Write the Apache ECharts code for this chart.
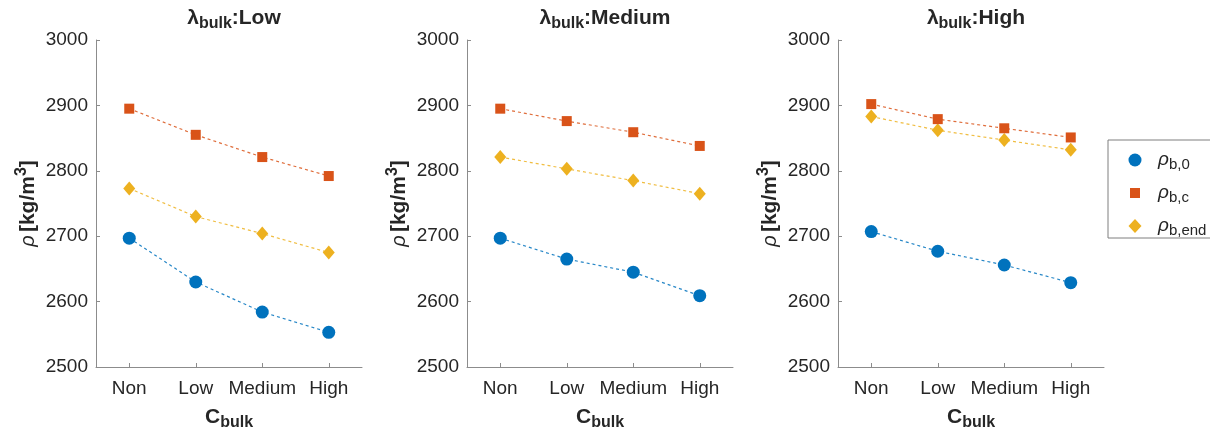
<!DOCTYPE html>
<html>
<head>
<meta charset="utf-8">
<script src="https://cdn.jsdelivr.net/npm/echarts@6/dist/echarts.min.js"></script>
<style>
html,body{margin:0;padding:0;background:#fff;}
#c{width:1210px;height:438px;}
</style>
</head>
<body>
<div id="c"></div>
<script>
// ---- data ----
var categories = ['Non', 'Low', 'Medium', 'High'];
var panelNames = ['Low', 'Medium', 'High'];
var seriesNames = ['b,0', 'b,c', 'b,end'];
var yTicks = [2500, 2600, 2700, 2800, 2900, 3000];

var rhoB0_Low = [2697, 2630, 2584, 2553];
var rhoBc_Low = [2895, 2855, 2821, 2792];
var rhoBend_Low = [2773, 2730, 2704, 2675];

var rhoB0_Medium = [2697, 2665, 2645, 2609];
var rhoBc_Medium = [2895, 2876, 2859, 2838];
var rhoBend_Medium = [2821, 2803, 2785, 2765];

var rhoB0_High = [2707, 2677, 2656, 2629];
var rhoBc_High = [2902, 2879, 2865, 2851];
var rhoBend_High = [2883, 2862, 2847, 2832];

var panelData = [
  [rhoB0_Low, rhoBc_Low, rhoBend_Low],
  [rhoB0_Medium, rhoBc_Medium, rhoBend_Medium],
  [rhoB0_High, rhoBc_High, rhoBend_High]
];

// ---- style ----
var FONT = 'Liberation Sans';
var colors = ['#0072BD', '#D95319', '#EDB120'];
var symbols = ['circle', 'rect', 'diamond'];
var symbolSizes = [13, 10, [12, 14]];
var axisColor = '#8c8c8c';
var textColor = '#262626';
var gridLefts = [96, 467, 838];
var gridWidth = 266;

var grids = [], xAxes = [], yAxes = [], series = [], titles = [];
for (var p = 0; p < 3; p++) {
  grids.push({left: gridLefts[p], top: 40, width: gridWidth, height: 327});
  titles.push({
    text: '{l|λ}{s|bulk}{b|:' + panelNames[p] + '}',
    left: gridLefts[p] + gridWidth / 2,
    textAlign: 'center',
    top: 0,
    textStyle: {
      rich: {
        l: {fontFamily: FONT, fontSize: 21, color: textColor},
        s: {fontFamily: FONT, fontSize: 16, fontWeight: 'bold', color: textColor, padding: [11, 0, 0, 0]},
        b: {fontFamily: FONT, fontSize: 21, fontWeight: 'bold', color: textColor}
      }
    }
  });
  xAxes.push({
    type: 'category', gridIndex: p, data: categories, boundaryGap: true,
    axisLine: {show: true, lineStyle: {color: axisColor, width: 1}},
    axisTick: {show: true, inside: true, alignWithLabel: true, length: 4, lineStyle: {color: axisColor}},
    axisLabel: {color: textColor, fontFamily: FONT, fontSize: 19, margin: 12, interval: 0},
    splitLine: {show: false},
    name: '{c|C}{s|bulk}', nameLocation: 'middle', nameGap: 36,
    nameTextStyle: {
      rich: {
        c: {fontFamily: FONT, fontSize: 21, fontWeight: 'bold', color: textColor},
        s: {fontFamily: FONT, fontSize: 16, fontWeight: 'bold', color: textColor, padding: [12, 0, 0, 0]}
      }
    }
  });
  yAxes.push({
    type: 'value', gridIndex: p, min: yTicks[0], max: yTicks[yTicks.length - 1], interval: 100,
    axisLine: {show: true, lineStyle: {color: axisColor, width: 1}},
    axisTick: {show: true, inside: true, length: 4, lineStyle: {color: axisColor}},
    axisLabel: {color: textColor, fontFamily: FONT, fontSize: 19, margin: 8,
      formatter: function (v) { return String(v); }},
    splitLine: {show: false},
    name: '{r|ρ} {b|[kg/m}{u|3}{b|]}', nameLocation: 'middle', nameGap: 54, nameRotate: 90,
    nameTextStyle: {
      rich: {
        r: {fontFamily: FONT, fontSize: 20, fontStyle: 'italic', color: textColor},
        b: {fontFamily: FONT, fontSize: 21, fontWeight: 'bold', color: textColor},
        u: {fontFamily: FONT, fontSize: 16, fontWeight: 'bold', color: textColor, padding: [0, 0, 12, 0]}
      }
    }
  });
  for (var s = 0; s < 3; s++) {
    series.push({
      name: seriesNames[s], type: 'line', xAxisIndex: p, yAxisIndex: p,
      data: panelData[p][s],
      symbol: symbols[s], symbolSize: symbolSizes[s], showSymbol: true,
      itemStyle: {color: colors[s]},
      lineStyle: {color: colors[s], width: 1.2, type: [3, 3], opacity: 0.85},
      z: 3 - s + 2,
      animation: false
    });
  }
}

var chart = echarts.init(document.getElementById('c'), null, {renderer: 'canvas'});
chart.setOption({
  backgroundColor: '#ffffff',
  animation: false,
  title: titles,
  grid: grids,
  xAxis: xAxes,
  yAxis: yAxes,
  legend: {
    orient: 'vertical',
    left: 1108, top: 140,
    padding: [8, 40, 0, 20],
    itemWidth: 14, itemHeight: 14, itemGap: 9,
    borderColor: '#7f7f7f', borderWidth: 1,
    data: [
      {name: seriesNames[0], icon: 'path://M0,0M14,14M7,0.5A6.5,6.5,0,1,1,6.99,0.5z'},
      {name: seriesNames[1], icon: 'path://M0,0M14,14M2,2h10v10h-10z'},
      {name: seriesNames[2], icon: 'path://M0,0M14,14M7,0L13.5,7L7,14L0.5,7z'}
    ],
    formatter: function (n) { return '{i|ρ}{s|' + n + '}'; },
    textStyle: {
      padding: [0, 0, 0, 11],
      rich: {
        i: {fontFamily: FONT, fontSize: 19, fontStyle: 'italic', color: textColor, lineHeight: 16},
        s: {fontFamily: FONT, fontSize: 15, color: textColor, lineHeight: 16, padding: [9, 0, 0, 0]}
      }
    }
  },
  series: series
});
</script>
</body>
</html>
